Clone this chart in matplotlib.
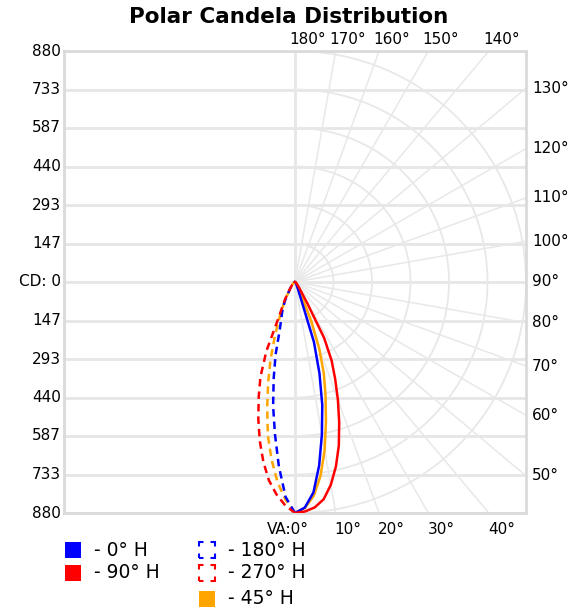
import numpy as np
import matplotlib
matplotlib.use('Agg')
import matplotlib.pyplot as plt
from matplotlib.patches import Rectangle

# vertical angles (deg from nadir) and candela values per horizontal plane
angles = [0, 2.5, 5, 7.5, 10, 12.5, 15, 17.5, 20, 22.5, 25, 27.5, 30, 35, 40, 45, 50, 60, 70, 80, 90]
cd_h0 = [880, 860, 805, 705, 590, 480, 360, 240, 55, 30, 18, 12, 9, 6, 5, 4, 3, 2, 1, 0, 0]
cd_h90 = [880, 875, 862, 835, 785, 720, 645, 560, 478, 400, 330, 240, 95, 30, 15, 10, 7, 4, 2, 1, 0]
cd_h180 = [880, 820, 705, 585, 480, 375, 285, 195, 155, 130, 110, 85, 65, 35, 22, 15, 10, 5, 3, 1, 0]
cd_h270 = [880, 852, 812, 762, 695, 620, 540, 460, 385, 285, 140, 100, 75, 35, 22, 15, 10, 6, 3, 1, 0]
cd_h45 = [880, 862, 818, 745, 650, 545, 450, 365, 270, 165, 60, 30, 20, 12, 8, 6, 4, 2, 1, 0, 0]
cd_h225 = [880, 830, 765, 683, 595, 490, 395, 310, 230, 170, 125, 90, 65, 35, 22, 15, 10, 5, 3, 1, 0]

cd_max = 880
cd_labels = ['880', '733', '587', '440', '293', '147', 'CD: 0',
             '147', '293', '440', '587', '733', '880']
va_labels = list(range(0, 181, 10))

grid = '#e6e6e6'
W, H = 571, 612
fig = plt.figure(figsize=(W / 100, H / 100), dpi=100)
ax = fig.add_axes([64 / W, (H - 513) / H, 462 / W, 462 / H])
ax.set_xlim(-cd_max, cd_max)
ax.set_ylim(-cd_max, cd_max)
ax.set_xticks([])
ax.set_yticks([])
for s in ax.spines.values():
    s.set_color('#dadada')
    s.set_linewidth(2)

levels = np.linspace(-cd_max, cd_max, len(cd_labels))
for v in levels:
    ax.axhline(v, color=grid, lw=2, zorder=1)
ax.axvline(0, color=grid, lw=2, zorder=1)

# arcs on the right half
t = np.radians(np.linspace(0, 180, 361))
for r in levels[levels > 0]:
    ax.plot(r * np.sin(t), -r * np.cos(t), color='#e8e8e8', lw=1.3, zorder=1)

# radial lines + angle labels
for a in va_labels:
    ar = np.radians(a)
    ax.plot([0, 3000 * np.sin(ar)], [0, -3000 * np.cos(ar)], color='#e8e8e8', lw=1.1, zorder=1)
    if a < 45:
        hx, hy = cd_max * np.tan(ar), -cd_max
        if a == 0:
            ax.annotate('VA:0°', (hx, hy), xytext=(14, -16), textcoords='offset pixels',
                        ha='right', va='center', fontsize=11, annotation_clip=False)
        else:
            ax.annotate(f'{a}°', (hx, hy), xytext=(-1, -16), textcoords='offset pixels',
                        ha='left', va='center', fontsize=11, annotation_clip=False)
    elif 45 < a < 135:
        hx, hy = cd_max, -cd_max * np.cos(ar) / np.sin(ar)
        ax.annotate(f'{a}°', (hx, hy), xytext=(6, 0), textcoords='offset pixels',
                    ha='left', va='center', fontsize=11, annotation_clip=False)
    elif a > 135:
        hx, hy = cd_max * np.sin(ar) / -np.cos(ar), cd_max
        ax.annotate(f'{a}°', (hx, hy), xytext=(-6, 11), textcoords='offset pixels',
                    ha='left', va='center', fontsize=11, annotation_clip=False)

for v, lab in zip(levels[::-1], cd_labels):
    ax.annotate(lab, (-cd_max, v), xytext=(-3, 0), textcoords='offset pixels',
                ha='right', va='center', fontsize=11, annotation_clip=False)

def curve(vals, side, color, ls):
    th = np.radians(angles)
    I = np.array(vals, dtype=float)
    ax.plot(side * I * np.sin(th), -I * np.cos(th), color=color, lw=1.8, ls=ls, zorder=3)

dash = (0, (3, 2))
curve(cd_h225, -1, 'orange', dash)
curve(cd_h180, -1, 'blue', dash)
curve(cd_h270, -1, 'red', dash)
curve(cd_h45, 1, 'orange', '-')
curve(cd_h0, 1, 'blue', '-')
curve(cd_h90, 1, 'red', '-')

fig.text(289 / W, 1 - 17 / H, 'Polar Candela Distribution', ha='center', va='center',
         fontsize=15.5, fontweight='bold')

# legend
def swatch(x, y, color, dashed, label):
    if dashed:
        rect = Rectangle((x / W, 1 - (y + 8) / H), 16 / W, 16 / H, transform=fig.transFigure,
                         fill=False, edgecolor=color, lw=1.5, ls=(2.16, (4.32, 3.36)))
    else:
        rect = Rectangle((x / W, 1 - (y + 8) / H), 16 / W, 16 / H, transform=fig.transFigure,
                         facecolor=color, edgecolor='none')
    fig.add_artist(rect)
    fig.text((x + 29) / W, 1 - y / H, label, ha='left', va='center', fontsize=13.5)

swatch(65, 550, 'blue', False, '- 0° H')
swatch(65, 573, 'red', False, '- 90° H')
swatch(199, 550, 'blue', True, '- 180° H')
swatch(199, 573, 'red', True, '- 270° H')
swatch(199, 599, 'orange', False, '- 45° H')

fig.savefig('out.png', dpi=100)
